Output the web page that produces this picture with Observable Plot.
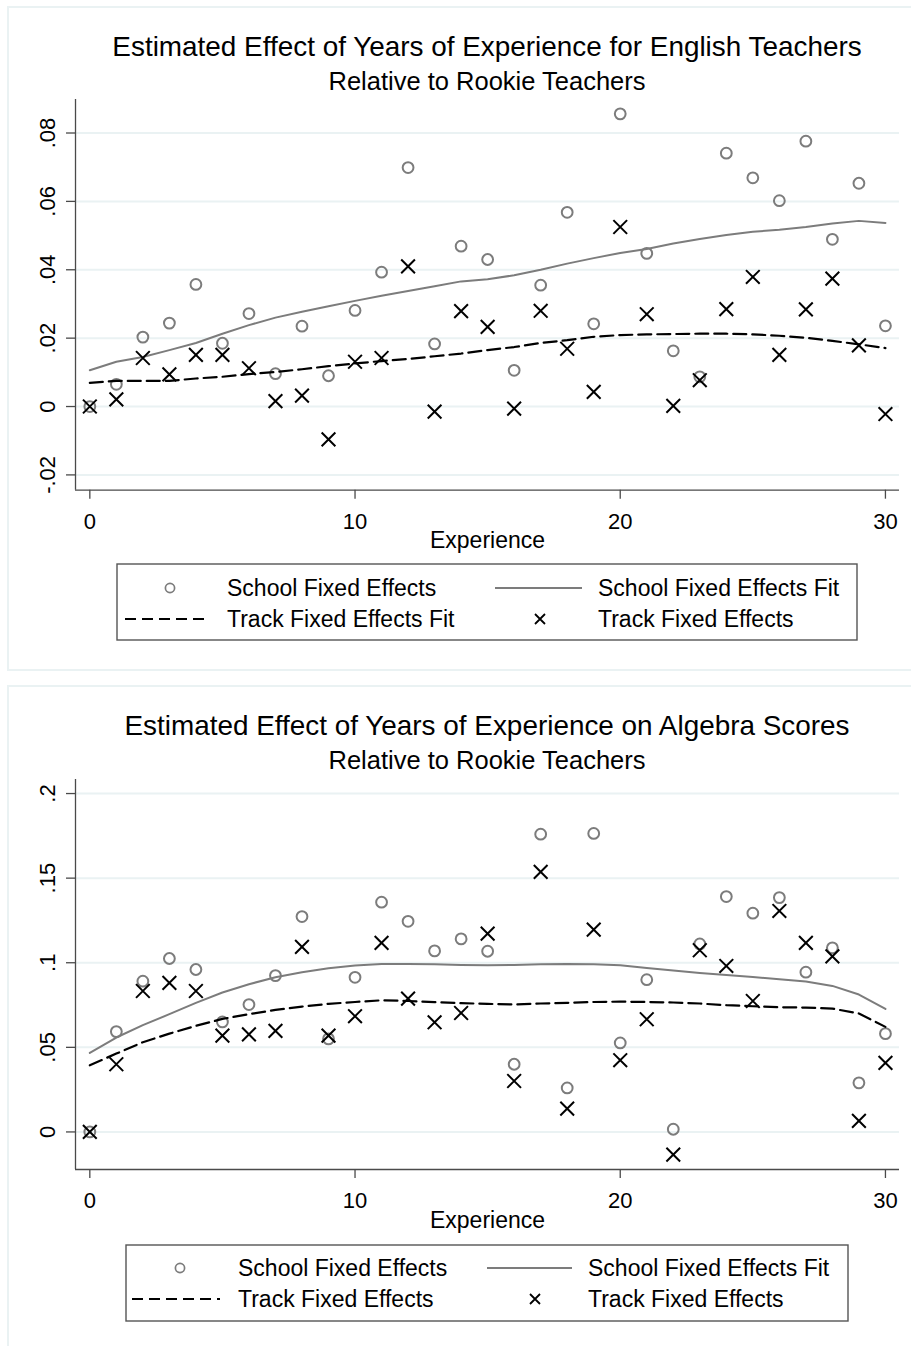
<!DOCTYPE html>
<html><head><meta charset="utf-8">
<script src="https://cdn.jsdelivr.net/npm/d3@7"></script>
<script src="https://cdn.jsdelivr.net/npm/@observablehq/plot@0.6"></script>
<style>
body{margin:0;background:#fff;}
#page{position:relative;width:911px;height:1346px;overflow:hidden;background:#fff;}
.panel{position:absolute;border:2px solid #eaf2f3;box-sizing:border-box;}
.chart{position:absolute;left:0;}
#overlay{position:absolute;left:0;top:0;}
</style></head><body><div id="page"></div>
<script>
// ---------- data ----------
const experience = [0,1,2,3,4,5,6,7,8,9,10,11,12,13,14,15,16,17,18,19,20,21,22,23,24,25,26,27,28,29,30];
const xTicks = [0,10,20,30];

const engYTicks = [-0.02,0,0.02,0.04,0.06,0.08];
const engSchool = [0,0.0065,0.0203,0.0244,0.0357,0.0185,0.0272,0.0096,0.0235,0.0090,0.0281,0.0393,0.0699,0.0183,0.0469,0.0430,0.0106,0.0355,0.0568,0.0242,0.0856,0.0448,0.0163,0.0087,0.0741,0.0669,0.0602,0.0776,0.0489,0.0653,0.0236];
const engTrack = [0,0.0021,0.0142,0.0094,0.0151,0.0151,0.0112,0.0016,0.0032,-0.0096,0.0131,0.0142,0.0410,-0.0015,0.0279,0.0233,-0.0006,0.0280,0.0169,0.0043,0.0525,0.0270,0.0002,0.0077,0.0285,0.0379,0.0151,0.0284,0.0374,0.0179,-0.0022];
const engSchoolFit = [0.0106,0.0131,0.0145,0.0165,0.0186,0.0213,0.0238,0.0260,0.0277,0.0293,0.0309,0.0324,0.0338,0.0352,0.0366,0.0372,0.0384,0.0400,0.0418,0.0434,0.0449,0.0461,0.0477,0.0490,0.0502,0.0511,0.0517,0.0525,0.0535,0.0543,0.0537];
const engTrackFit = [0.0069,0.0075,0.0075,0.0075,0.0082,0.0087,0.0095,0.0101,0.0109,0.0118,0.0126,0.0133,0.0139,0.0147,0.0155,0.0165,0.0174,0.0186,0.0194,0.0204,0.0209,0.0211,0.0212,0.0213,0.0213,0.0211,0.0207,0.0201,0.0192,0.0182,0.0171];

const algYTicks = [0,0.05,0.1,0.15,0.2];
const algSchool = [0,0.0593,0.0891,0.1025,0.0960,0.0650,0.0753,0.0924,0.1273,0.0550,0.0914,0.1358,0.1245,0.1070,0.1141,0.1068,0.0400,0.1760,0.0260,0.1764,0.0526,0.0900,0.0016,0.1111,0.1391,0.1293,0.1385,0.0944,0.1088,0.0290,0.0581];
const algTrack = [0,0.0400,0.0833,0.0881,0.0833,0.0569,0.0577,0.0597,0.1094,0.0569,0.0684,0.1117,0.0788,0.0648,0.0703,0.1172,0.0301,0.1537,0.0138,0.1196,0.0424,0.0666,-0.0134,0.1074,0.0981,0.0774,0.1306,0.1117,0.1038,0.0065,0.0408];
const algSchoolFit = [0.0467,0.0558,0.0631,0.0696,0.0763,0.0824,0.0873,0.0914,0.0944,0.0967,0.0983,0.0993,0.0993,0.0991,0.0987,0.0985,0.0987,0.0991,0.0993,0.0991,0.0985,0.0969,0.0954,0.0940,0.0928,0.0916,0.0902,0.0889,0.0863,0.0812,0.0727];
const algTrackFit = [0.0394,0.0463,0.0530,0.0581,0.0627,0.0668,0.0696,0.0721,0.0741,0.0757,0.0768,0.0778,0.0774,0.0767,0.0761,0.0757,0.0753,0.0759,0.0763,0.0768,0.0770,0.0768,0.0765,0.0759,0.0749,0.0743,0.0737,0.0735,0.0729,0.0700,0.0621];

const titles = [
  "Estimated Effect of Years of Experience for English Teachers",
  "Estimated Effect of Years of Experience on Algebra Scores"
];
const subtitle = "Relative to Rookie Teachers";
const legendEng = ["School Fixed Effects","School Fixed Effects Fit","Track Fixed Effects Fit","Track Fixed Effects"];
const legendAlg = ["School Fixed Effects","School Fixed Effects Fit","Track Fixed Effects","Track Fixed Effects"];

// ---------- style ----------
const FONT = '"Liberation Sans", Arial, Helvetica, sans-serif';
const AX = "#4a4a4a";
const GRAY = "#7c7c7c";
const GRID = "#eaf2f3";
const xDomain = [-0.54, 30.53];

function fmtY(d){ return d === 0 ? "0" : String(+d.toFixed(3)).replace(/^(-?)0\./, "$1."); }

function chart({school, track, schoolFit, trackFit, yDomain, yTicks, frameTop, frameBottom}) {
  const rows = experience.map((e,i) => ({e, school: school[i], track: track[i], sfit: schoolFit[i], tfit: trackFit[i]}));
  const svgTop = frameTop - 10;
  const height = frameBottom - svgTop + 70;
  const p = Plot.plot({
    width: 911, height,
    marginTop: frameTop - svgTop, marginBottom: 70, marginLeft: 75, marginRight: 12,
    style: {fontFamily: FONT, fontSize: "22px", background: "transparent", overflow: "visible", color: "#000"},
    x: {domain: xDomain},
    y: {domain: yDomain},
    marks: [
      Plot.gridY(yTicks, {stroke: GRID, strokeOpacity: 1, strokeWidth: 2}),
      Plot.axisX({ticks: xTicks, tickSize: 9, tickPadding: 14, tickFormat: d => String(d), stroke: AX, strokeWidth: 1.3, fill: "#000", fontSize: 22, label: null}),
      Plot.axisY({ticks: yTicks, tickSize: 9, tickFormat: () => "", stroke: AX, strokeWidth: 1.3, label: null}),
      Plot.text(yTicks, {y: d => d, text: fmtY, frameAnchor: "left", dx: -28, rotate: -90, textAnchor: "middle", fontSize: 22, fill: "#000"}),
      Plot.text(["Experience"], {text: d => d, frameAnchor: "bottom", dy: 58, fontSize: 23, fill: "#000"}),
      Plot.ruleX([xDomain[0]], {stroke: AX, strokeWidth: 1.3}),
      Plot.ruleY([yDomain[0]], {stroke: AX, strokeWidth: 1.3}),
      Plot.dot(rows, {x: "e", y: "school", r: 5.4, stroke: GRAY, strokeWidth: 2, fill: "none"}),
      Plot.line(rows, {x: "e", y: "sfit", stroke: GRAY, strokeWidth: 2}),
      Plot.line(rows, {x: "e", y: "tfit", stroke: "#000", strokeWidth: 2.2, strokeDasharray: "13,6"}),
      Plot.dot(rows, {x: "e", y: "track", r: 6.3, symbol: "times", stroke: "#000", strokeWidth: 2, fill: "none"})
    ]
  });
  p.classList.add("chart");
  p.style.top = svgTop + "px";
  return p;
}

const page = document.getElementById("page");
// panel borders
[[6, 665], [685, 720]].forEach(([t, h]) => {
  const d = document.createElement("div");
  d.className = "panel";
  d.style.left = "7px"; d.style.top = t + "px"; d.style.width = "1000px"; d.style.height = h + "px";
  page.appendChild(d);
});

page.appendChild(chart({school: engSchool, track: engTrack, schoolFit: engSchoolFit, trackFit: engTrackFit,
  yDomain: [-0.02447, 0.0898], yTicks: engYTicks, frameTop: 99.3, frameBottom: 490}));
page.appendChild(chart({school: algSchool, track: algTrack, schoolFit: algSchoolFit, trackFit: algTrackFit,
  yDomain: [-0.0222, 0.2083], yTicks: algYTicks, frameTop: 779.3, frameBottom: 1169.3}));

// overlay: titles and legends
const svg = d3.select(page).append("svg").attr("id", "overlay").attr("width", 911).attr("height", 1346)
  .style("font-family", FONT);

function titleBlock(title, y0) {
  svg.append("text").attr("x", 487).attr("y", y0).attr("text-anchor", "middle").attr("font-size", 27.9).attr("fill", "#000").text(title);
  svg.append("text").attr("x", 487).attr("y", y0 + 34).attr("text-anchor", "middle").attr("font-size", 25.5).attr("fill", "#000").text(subtitle);
}
titleBlock(titles[0], 56);
titleBlock(titles[1], 735);

function legend(labels, g) {
  const {box, r1, r2, circ, t1, line, t2, dash, xm} = g;
  svg.append("rect").attr("x", box[0]).attr("y", box[1]).attr("width", box[2]).attr("height", box[3])
    .attr("fill", "#fff").attr("stroke", "#555").attr("stroke-width", 1.4);
  svg.append("circle").attr("cx", circ).attr("cy", r1).attr("r", 4.6).attr("fill", "none").attr("stroke", GRAY).attr("stroke-width", 1.7);
  svg.append("line").attr("x1", line[0]).attr("x2", line[1]).attr("y1", r1).attr("y2", r1).attr("stroke", GRAY).attr("stroke-width", 2);
  svg.append("line").attr("x1", dash[0]).attr("x2", dash[1]).attr("y1", r2).attr("y2", r2).attr("stroke", "#000").attr("stroke-width", 2).attr("stroke-dasharray", "11,6");
  const s = 5;
  svg.append("path").attr("d", `M${xm - s},${r2 - s}L${xm + s},${r2 + s}M${xm - s},${r2 + s}L${xm + s},${r2 - s}`).attr("stroke", "#000").attr("stroke-width", 1.8);
  const txt = (x, y, t) => svg.append("text").attr("x", x).attr("y", y + 8.2).attr("font-size", 23).attr("fill", "#000").text(t);
  txt(t1, r1, labels[0]); txt(t2, r1, labels[1]); txt(t1, r2, labels[2]); txt(t2, r2, labels[3]);
}
legend(legendEng, {box: [117, 564, 740, 76], r1: 588, r2: 619, circ: 170, t1: 227, line: [495, 582], t2: 598, dash: [125, 210], xm: 540});
legend(legendAlg, {box: [126, 1245, 722, 76], r1: 1268, r2: 1299, circ: 180, t1: 238, line: [487, 572], t2: 588, dash: [132, 220], xm: 535});
</script></body></html>
